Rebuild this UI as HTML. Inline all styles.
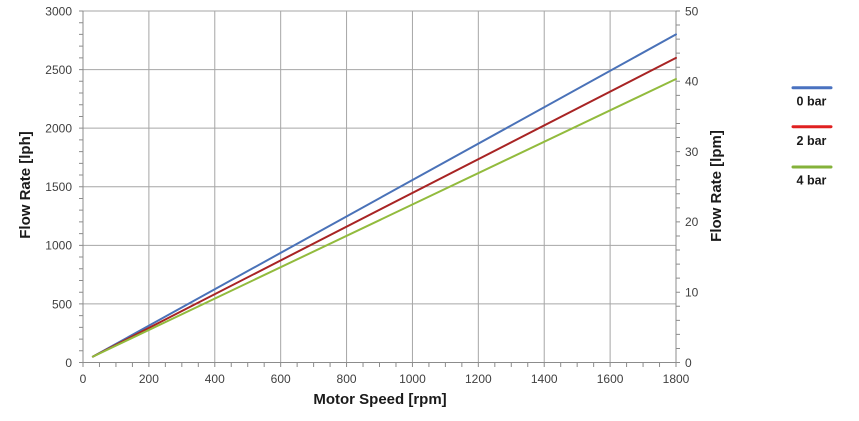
<!DOCTYPE html>
<html><head><meta charset="utf-8"><style>
html,body{margin:0;padding:0;background:#fff;}
svg{display:block;}
text{font-family:"Liberation Sans",sans-serif;}
</style></head><body>
<svg width="859" height="421" viewBox="0 0 859 421" xmlns="http://www.w3.org/2000/svg">
<g stroke="#a6a6a6" stroke-width="1" fill="none">
<path d="M83 11H676M83 69.58H676M83 128.17H676M83 186.75H676M83 245.33H676M83 303.92H676"/>
<path d="M148.89 11V362.5M214.78 11V362.5M280.67 11V362.5M346.56 11V362.5M412.44 11V362.5M478.33 11V362.5M544.22 11V362.5M610.11 11V362.5M676 11V362.5"/>
</g>
<g stroke="#8c8c8c" stroke-width="1" fill="none">
<path d="M83 11V362.5H676V11"/>
<path d="M79 362.5H83M79 350.78H83M79 339.07H83M79 327.35H83M79 315.63H83M79 303.92H83M79 292.2H83M79 280.48H83M79 268.77H83M79 257.05H83M79 245.33H83M79 233.62H83M79 221.9H83M79 210.18H83M79 198.47H83M79 186.75H83M79 175.03H83M79 163.32H83M79 151.6H83M79 139.88H83M79 128.17H83M79 116.45H83M79 104.73H83M79 93.02H83M79 81.3H83M79 69.58H83M79 57.87H83M79 46.15H83M79 34.43H83M79 22.72H83M79 11H83"/>
<path d="M676 362.5H680M676 348.44H680M676 334.38H680M676 320.32H680M676 306.26H680M676 292.2H680M676 278.14H680M676 264.08H680M676 250.02H680M676 235.96H680M676 221.9H680M676 207.84H680M676 193.78H680M676 179.72H680M676 165.66H680M676 151.6H680M676 137.54H680M676 123.48H680M676 109.42H680M676 95.36H680M676 81.3H680M676 67.24H680M676 53.18H680M676 39.12H680M676 25.06H680M676 11H680"/>
<path d="M83 362.5V367M99.47 362.5V367M115.94 362.5V367M132.42 362.5V367M148.89 362.5V367M165.36 362.5V367M181.83 362.5V367M198.31 362.5V367M214.78 362.5V367M231.25 362.5V367M247.72 362.5V367M264.19 362.5V367M280.67 362.5V367M297.14 362.5V367M313.61 362.5V367M330.08 362.5V367M346.56 362.5V367M363.03 362.5V367M379.5 362.5V367M395.97 362.5V367M412.44 362.5V367M428.92 362.5V367M445.39 362.5V367M461.86 362.5V367M478.33 362.5V367M494.81 362.5V367M511.28 362.5V367M527.75 362.5V367M544.22 362.5V367M560.69 362.5V367M577.17 362.5V367M593.64 362.5V367M610.11 362.5V367M626.58 362.5V367M643.06 362.5V367M659.53 362.5V367M676 362.5V367"/>
</g>
<g stroke-width="2" fill="none" stroke-linecap="round">
<line x1="92.9" y1="356.6" x2="676" y2="34.4" stroke="#4a72b8"/>
<line x1="92.9" y1="356.6" x2="676" y2="57.9" stroke="#a82424"/>
<line x1="92.9" y1="356.6" x2="676" y2="79.0" stroke="#92bb3d"/>
</g>
<g font-size="12" fill="#404040" text-anchor="end">
<text x="72" y="15.5">3000</text>
<text x="72" y="74">2500</text>
<text x="72" y="132.5">2000</text>
<text x="72" y="191">1500</text>
<text x="72" y="249.5">1000</text>
<text x="72" y="308.5">500</text>
<text x="72" y="367">0</text>
</g>
<g font-size="12" fill="#404040" text-anchor="start">
<text x="685" y="15.5">50</text>
<text x="685" y="85.5">40</text>
<text x="685" y="156">30</text>
<text x="685" y="226">20</text>
<text x="685" y="296.5">10</text>
<text x="685" y="367">0</text>
</g>
<g font-size="12" fill="#404040" text-anchor="middle">
<text x="83" y="383">0</text>
<text x="148.89" y="383">200</text>
<text x="214.78" y="383">400</text>
<text x="280.67" y="383">600</text>
<text x="346.56" y="383">800</text>
<text x="412.44" y="383">1000</text>
<text x="478.33" y="383">1200</text>
<text x="544.22" y="383">1400</text>
<text x="610.11" y="383">1600</text>
<text x="676" y="383">1800</text>
</g>
<g font-size="15" font-weight="bold" fill="#1a1a1a" text-anchor="middle">
<text x="380" y="404">Motor Speed [rpm]</text>
<text transform="translate(30,185) rotate(-90)">Flow Rate [lph]</text>
<text transform="translate(721,186) rotate(-90)">Flow Rate [lpm]</text>
</g>
<g stroke-width="3" stroke-linecap="round">
<line x1="793" y1="87.7" x2="831" y2="87.7" stroke="#4a72c0"/>
<line x1="793" y1="126.7" x2="831" y2="126.7" stroke="#e02020"/>
<line x1="793" y1="167" x2="831" y2="167" stroke="#84b23a"/>
</g>
<g font-size="12.5" font-weight="bold" fill="#1a1a1a" text-anchor="middle">
<text x="811.5" y="105.5">0 bar</text>
<text x="811.5" y="145">2 bar</text>
<text x="811.5" y="184.5">4 bar</text>
</g>
</svg>
</body></html>
